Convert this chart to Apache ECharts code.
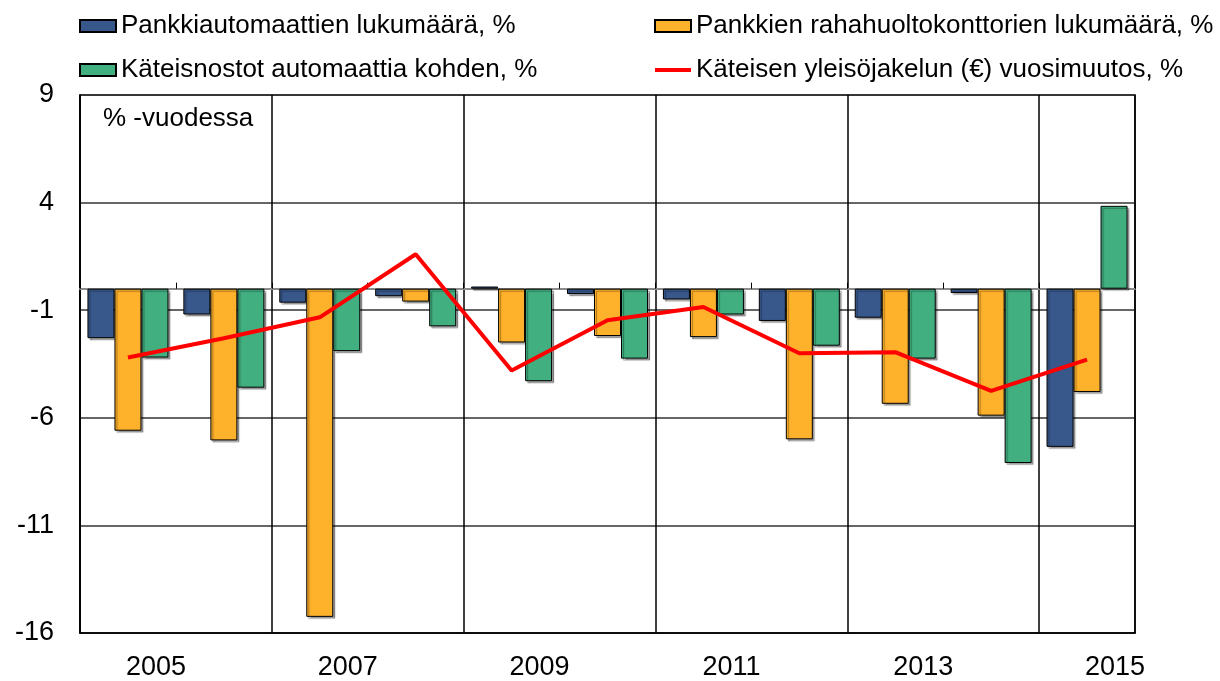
<!DOCTYPE html>
<html>
<head>
<meta charset="utf-8">
<script src="https://cdn.jsdelivr.net/npm/echarts@6/dist/echarts.min.js"></script>
<style>
  html, body { margin: 0; padding: 0; background: #fff; }
  #chart { width: 1220px; height: 681px; }
</style>
</head>
<body>
<div id="chart"></div>
<script>
// vuodet ja sarjat
var years = ['2005', '2006', '2007', '2008', '2009', '2010', '2011', '2012', '2013', '2014', '2015'];
var automaatit = [-2.3, -1.2, -0.65, -0.35, 0.1, -0.25, -0.5, -1.5, -1.35, -0.2, -7.35];
var konttorit = [-6.6, -7.05, -15.25, -0.6, -2.5, -2.2, -2.25, -7.0, -5.35, -5.9, -4.8];
var nostot = [-3.2, -4.6, -2.9, -1.75, -4.3, -3.25, -1.2, -2.65, -3.25, -8.1, 3.85];
var yleisojakelu = [-3.2, -2.3, -1.33, 1.6, -3.8, -1.47, -0.85, -3.0, -2.95, -4.75, -3.3];
var yTicks = { min: -16, max: 9, step: 5 };

var names = [
  'Pankkiautomaattien lukumäärä, %',
  'Pankkien rahahuoltokonttorien lukumäärä, %',
  'Käteisnostot automaattia kohden, %',
  'Käteisen yleisöjakelun (€) vuosimuutos, %'
];

var font = 'Arial, "Liberation Sans", sans-serif';
var chart = echarts.init(document.getElementById('chart'));

function barSeries(name, data, color) {
  return {
    name: name,
    type: 'bar',
    xAxisIndex: 0,
    data: data,
    barWidth: 27,
    barGap: '0%',
    itemStyle: {
      color: color,
      borderColor: '#000',
      borderWidth: 1,
      shadowColor: 'rgba(0,0,0,0.35)',
      shadowOffsetX: 2,
      shadowOffsetY: 2,
      shadowBlur: 1
    }
  };
}

var legendBase = {
  orient: 'vertical',
  top: 8,
  itemWidth: 36,
  itemHeight: 12,
  itemGap: 18,
  icon: 'rect',
  textStyle: { fontSize: 26, color: '#000', fontFamily: font, lineHeight: 26 }
};

chart.setOption({
  animation: false,
  textStyle: { fontFamily: font },
  legend: [
    Object.assign({}, legendBase, { left: 74, data: [names[0], names[2]] }),
    Object.assign({}, legendBase, {
      left: 649,
      data: [names[1], { name: names[3], icon: 'path://M0,0 L36,0 L36,4 L0,4 Z', itemStyle: { color: '#ff0000' } }]
    })
  ],
  graphic: [{
    type: 'text',
    left: 103,
    top: 106,
    style: { text: '% -vuodessa', fill: '#000', font: '26px ' + font }
  }],
  grid: {
    left: 80, right: 85, top: 95, bottom: 48,
    show: true, borderColor: '#000', borderWidth: 1.5
  },
  xAxis: [
    {
      // nollaviiva
      type: 'category',
      data: years,
      position: 'bottom',
      axisLine: { onZero: true, lineStyle: { color: '#8c8c8c', width: 2 } },
      axisTick: { show: true, inside: true, length: 6, interval: 0, lineStyle: { color: '#000' } },
      axisLabel: { show: false },
      splitLine: { show: true, interval: 1, lineStyle: { color: '#000', width: 1.5 } }
    },
    {
      type: 'category',
      data: years,
      position: 'bottom',
      axisLine: { onZero: false, lineStyle: { color: '#000', width: 1.5 } },
      axisTick: { show: false },
      axisLabel: {
        interval: 1, fontSize: 27, color: '#000', margin: 21,
        padding: [0, 0, 0, 56]
      },
      splitLine: { show: false }
    }
  ],
  yAxis: {
    type: 'value',
    min: yTicks.min,
    max: yTicks.max,
    interval: yTicks.step,
    axisLine: { show: true, lineStyle: { color: '#000', width: 1.5 } },
    axisTick: { show: false },
    axisLabel: { fontSize: 27, color: '#000', margin: 26 },
    splitLine: { show: true, lineStyle: { color: '#333', width: 1.5 } }
  },
  series: [
    barSeries(names[0], automaatit, '#38588c'),
    barSeries(names[1], konttorit, '#feb12a'),
    barSeries(names[2], nostot, '#41af80'),
    {
      name: names[3],
      type: 'line',
      xAxisIndex: 0,
      data: yleisojakelu,
      symbol: 'none',
      z: 5,
      itemStyle: { color: '#ff0000' },
      lineStyle: { color: '#ff0000', width: 4 }
    }
  ]
});
</script>
</body>
</html>
